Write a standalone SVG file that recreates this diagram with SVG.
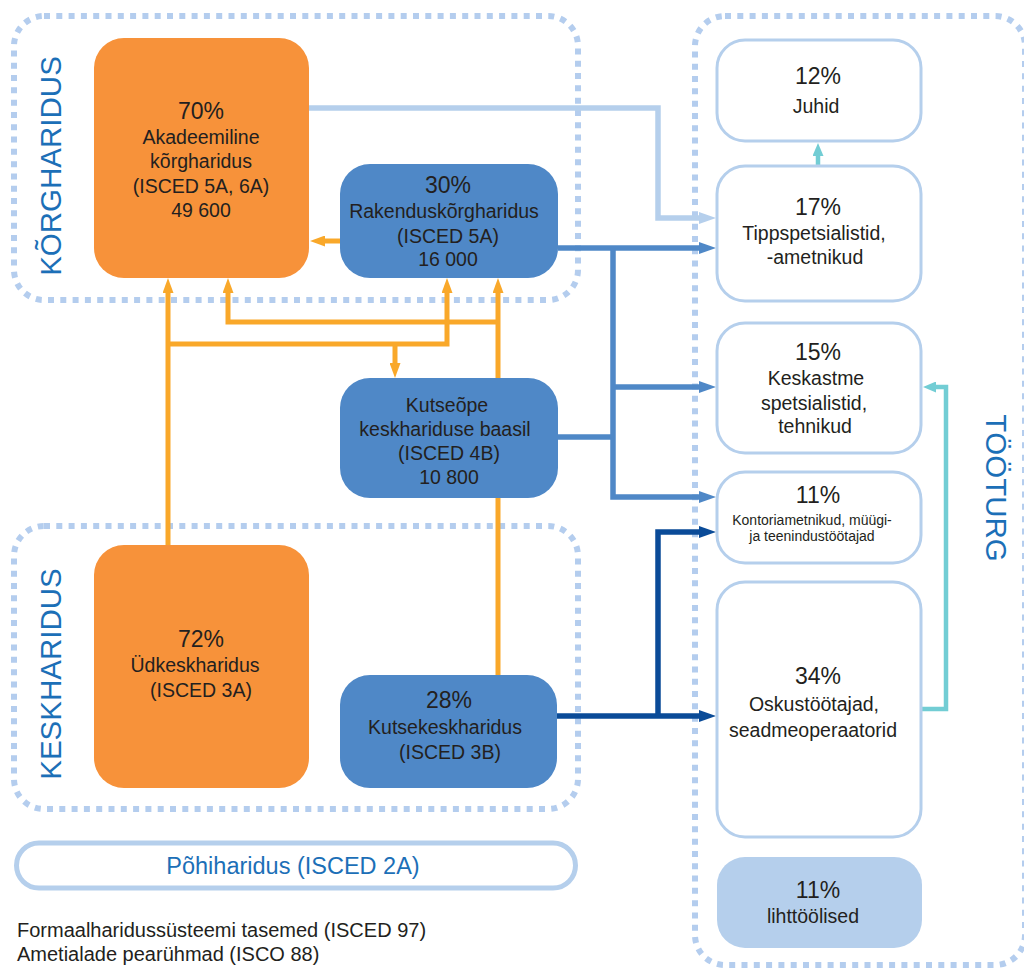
<svg xmlns="http://www.w3.org/2000/svg" width="1024" height="968" viewBox="0 0 1024 968">
<style>
.region{fill:none;stroke:#b4cdee;stroke-width:6;stroke-dasharray:6 6.3}
.t{font-family:"Liberation Sans",Arial,Helvetica,sans-serif;fill:#231f20;text-anchor:middle}
.pct{font-size:23px}
.lbl{font-size:19.5px}
.sm{font-size:14px}
.head{font-family:"Liberation Sans",Arial,Helvetica,sans-serif;font-size:29.5px;fill:#1c6fb7;text-anchor:middle}
.orange{fill:#f7923a}
.blue{fill:#4f88c7}
.occ{fill:#fff;stroke:#b5cfec;stroke-width:3}
.c{fill:none;stroke-linejoin:miter}
.co{stroke:#f9a82a;stroke-width:5}
.cl{stroke:#b5cfec;stroke-width:5.5}
.cb{stroke:#4f88c7;stroke-width:5.5}
.cd{stroke:#0a4b98;stroke-width:5.5}
.ct{stroke:#72cdd4;stroke-width:4.5}
</style>
<defs>
<marker id="aO" markerWidth="15" markerHeight="11" refX="5" refY="5.5" orient="auto" markerUnits="userSpaceOnUse"><path d="M0,0 L15,5.5 L0,11 z" fill="#f9a82a"/></marker>
<marker id="aL" markerWidth="17" markerHeight="12" refX="7" refY="6" orient="auto" markerUnits="userSpaceOnUse"><path d="M0,0 L17,6 L0,12 z" fill="#b5cfec"/></marker>
<marker id="aB" markerWidth="17" markerHeight="12" refX="7" refY="6" orient="auto" markerUnits="userSpaceOnUse"><path d="M0,0 L17,6 L0,12 z" fill="#4f88c7"/></marker>
<marker id="aD" markerWidth="17" markerHeight="12" refX="7" refY="6" orient="auto" markerUnits="userSpaceOnUse"><path d="M0,0 L17,6 L0,12 z" fill="#0a4b98"/></marker>
<marker id="aT" markerWidth="13" markerHeight="11" refX="3" refY="5.5" orient="auto" markerUnits="userSpaceOnUse"><path d="M0,0 L13,5.5 L0,11 z" fill="#72cdd4"/></marker>
</defs>

<g id="regions">
<rect class="region" x="14" y="16" width="564" height="284" rx="30"/>
<rect class="region" x="14" y="526" width="564" height="283" rx="30"/>
<rect class="region" x="695" y="16" width="330" height="949" rx="30"/>
<text class="head" transform="translate(61,166) rotate(-90)">KÕRGHARIDUS</text>
<text class="head" transform="translate(61,674) rotate(-90)">KESKHARIDUS</text>
<text class="head" transform="translate(986,488) rotate(90)">TÖÖTURG</text>
</g>

<g id="connectors">
<path class="c cl" d="M309,108 H658 V218 H706" marker-end="url(#aL)"/>
<path class="c cb" d="M558,248 H706" marker-end="url(#aB)"/>
<path class="c cb" d="M613,248 V497 H706" marker-end="url(#aB)"/>
<path class="c cb" d="M613,387 H706" marker-end="url(#aB)"/>
<path class="c cb" d="M558,437 H613"/>
<path class="c cd" d="M557,716 H706" marker-end="url(#aD)"/>
<path class="c cd" d="M658,716 V532 H706" marker-end="url(#aD)"/>
<path class="c ct" d="M922,709 H946 V387 H933" marker-end="url(#aT)"/>
<path class="c ct" d="M818,166 V153" marker-end="url(#aT)"/>
<path class="c co" d="M168,545 V288" marker-end="url(#aO)"/>
<path class="c co" d="M168,344 H447 V288" marker-end="url(#aO)"/>
<path class="c co" d="M395,344 V368" marker-end="url(#aO)"/>
<path class="c co" d="M498,675 V288" marker-end="url(#aO)"/>
<path class="c co" d="M498,322 H228 V288" marker-end="url(#aO)"/>
<path class="c co" d="M340,241 H320" marker-end="url(#aO)"/>
</g>

<g id="n-akadeemiline">
<rect class="orange" x="94" y="38" width="215" height="240" rx="30"/>
<text class="t pct" x="201" y="119">70%</text>
<text class="t lbl" x="201" y="144">Akadeemiline</text>
<text class="t lbl" x="201" y="168">kõrgharidus</text>
<text class="t lbl" x="201" y="193">(ISCED 5A, 6A)</text>
<text class="t lbl" x="201" y="217">49 600</text>
</g>

<g id="n-rakendus">
<rect class="blue" x="340" y="164" width="218" height="114" rx="30"/>
<text class="t pct" x="448" y="193">30%</text>
<text class="t lbl" x="444" y="218">Rakenduskõrgharidus</text>
<text class="t lbl" x="448" y="243">(ISCED 5A)</text>
<text class="t lbl" x="448" y="266">16 000</text>
</g>

<g id="n-kutseope">
<rect class="blue" x="340" y="378" width="218" height="120" rx="30"/>
<text class="t lbl" x="447" y="412">Kutseõpe</text>
<text class="t lbl" x="445" y="436">keskhariduse baasil</text>
<text class="t lbl" x="449" y="460">(ISCED 4B)</text>
<text class="t lbl" x="449" y="484">10 800</text>
</g>

<g id="n-yldkesk">
<rect class="orange" x="94" y="545" width="215" height="243" rx="30"/>
<text class="t pct" x="201" y="647">72%</text>
<text class="t lbl" x="195" y="672">Üdkeskharidus</text>
<text class="t lbl" x="201" y="697">(ISCED 3A)</text>
</g>

<g id="n-kutsekesk">
<rect class="blue" x="340" y="675" width="217" height="113" rx="30"/>
<text class="t pct" x="449" y="708">28%</text>
<text class="t lbl" x="445" y="734">Kutsekeskharidus</text>
<text class="t lbl" x="450" y="759">(ISCED 3B)</text>
</g>

<g id="n-pohiharidus">
<rect x="16.5" y="843" width="559" height="45" rx="22.5" fill="#fff" stroke="#b5cfec" stroke-width="5"/>
<text class="t" x="293" y="874" style="font-size:23.5px;fill:#1c6fb7">Põhiharidus (ISCED 2A)</text>
</g>

<g id="n-juhid">
<rect class="occ" x="717" y="40" width="204" height="101" rx="28"/>
<text class="t pct" x="818" y="84">12%</text>
<text class="t lbl" x="816" y="113">Juhid</text>
</g>

<g id="n-tipp">
<rect class="occ" x="717" y="166" width="204" height="135" rx="28"/>
<text class="t pct" x="818" y="215">17%</text>
<text class="t lbl" x="814" y="240">Tippspetsialistid,</text>
<text class="t lbl" x="815" y="264">-ametnikud</text>
</g>

<g id="n-keskastme">
<rect class="occ" x="717" y="323" width="204" height="130" rx="28"/>
<text class="t pct" x="818" y="360">15%</text>
<text class="t lbl" x="816" y="385">Keskastme</text>
<text class="t lbl" x="814" y="410">spetsialistid,</text>
<text class="t lbl" x="815" y="433">tehnikud</text>
</g>

<g id="n-kontor">
<rect class="occ" x="717" y="472" width="204" height="91" rx="28"/>
<text class="t pct" x="818" y="503">11%</text>
<text class="t sm" x="812" y="525">Kontoriametnikud, müügi-</text>
<text class="t sm" x="812" y="541">ja teenindustöötajad</text>
</g>

<g id="n-oskus">
<rect class="occ" x="717" y="582" width="204" height="255" rx="28"/>
<text class="t pct" x="818" y="684">34%</text>
<text class="t lbl" x="814" y="711">Oskustöötajad,</text>
<text class="t lbl" x="813" y="737">seadmeoperaatorid</text>
</g>

<g id="n-liht">
<rect x="717" y="857" width="205" height="91" rx="28" fill="#b5cfec"/>
<text class="t pct" x="818" y="898">11%</text>
<text class="t lbl" x="813" y="923">lihttöölised</text>
</g>

<g id="legend">
<text class="t" x="17" y="937" style="font-size:20px;text-anchor:start">Formaalharidussüsteemi tasemed (ISCED 97)</text>
<text class="t" x="17" y="961" style="font-size:20px;text-anchor:start">Ametialade pearühmad (ISCO 88)</text>
</g>
</svg>
